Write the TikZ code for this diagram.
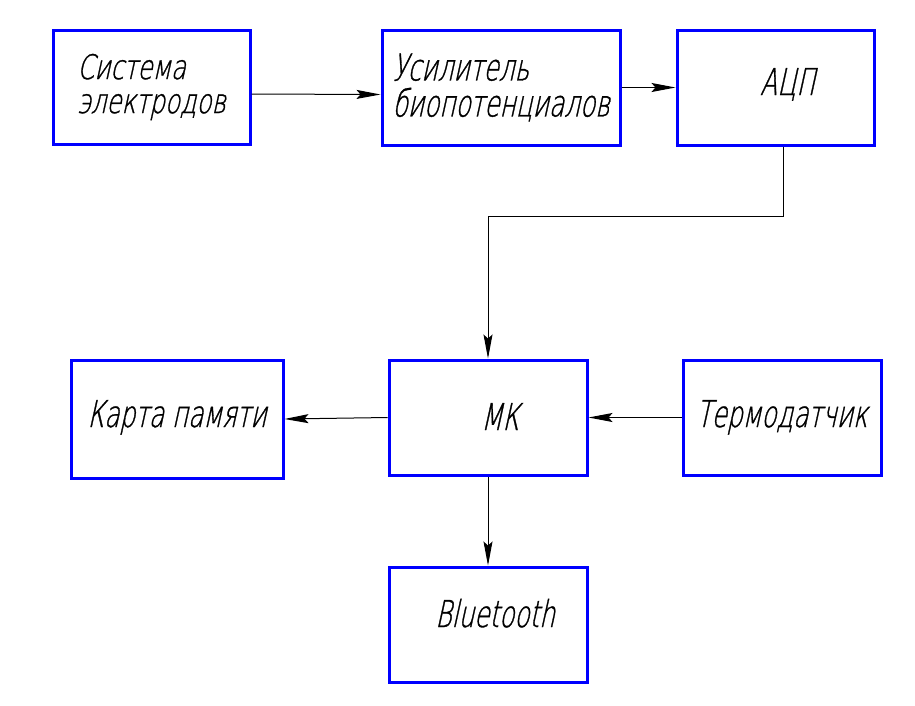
\documentclass[tikz,border=0pt]{standalone}
\usepackage{fontspec}
\newfontfamily\gost[FakeSlant=0.22,FakeStretch=0.72,FakeBold=0.8]{DejaVu Sans ExtraLight}
\newfontfamily\gostn[FakeSlant=0.22,FakeStretch=0.67,FakeBold=0.8]{DejaVu Sans ExtraLight}
\usetikzlibrary{arrows.meta}
\definecolor{boxblue}{RGB}{0,0,255}
\tikzstyle{blk}=[rectangle,draw=boxblue,line width=3pt,fill=white,align=left,inner sep=0pt,font=\gostn\fontsize{37}{36}\selectfont]
\tikzstyle{arr}=[-{Stealth[length=24pt,width=9pt,inset=4pt]},draw,line width=1pt]

\begin{document}
\begin{tikzpicture}[x=1pt,y=-1pt]
    \useasboundingbox (0,0) rectangle (915,705);
    \node[blk,font=\gost\fontsize{34}{34}\selectfont,minimum width=197pt,minimum height=114pt] (sys) at (151.5,87) {Система\\электродов};
    \node[blk,minimum width=238pt,minimum height=115pt] (amp) at (501,87.5) {Усилитель\\биопотенциалов};
    \node[blk,minimum width=197pt,minimum height=115pt,text height=15pt,text depth=0pt] (adc) at (775.5,87.5) {\hspace*{24pt}АЦП};
    \node[blk,minimum width=212pt,minimum height=118pt,text height=16pt,text depth=0pt] (mem) at (177,419) {Карта памяти};
    \node[blk,minimum width=198pt,minimum height=115pt,text height=25pt,text depth=0pt] (mk) at (488,417.5) {\hspace*{24pt}МК};
    \node[blk,minimum width=198pt,minimum height=115pt,text height=19pt,text depth=0pt] (term) at (782,417.5) {Термодатчик};
    \node[blk,minimum width=198pt,minimum height=115pt,text height=5pt,text depth=0pt] (bt) at (488,624.5) {\hspace*{14pt}Bluetooth};
    \coordinate (bend) at (488,216);
    \draw[arr] ([yshift=-7pt]sys.east) -- ([yshift=-7pt]amp.west);
    \draw[arr] (amp.east) -- (adc.west);
    \draw[arr] ([xshift=7.5pt]adc.south) |- (bend) -- (mk.north);
    \draw[arr] (mk.west) -- (mem.east);
    \draw[arr] (term.west) -- (mk.east);
    \draw[arr] (mk.south) -- (bt.north);
\end{tikzpicture}
\end{document}
